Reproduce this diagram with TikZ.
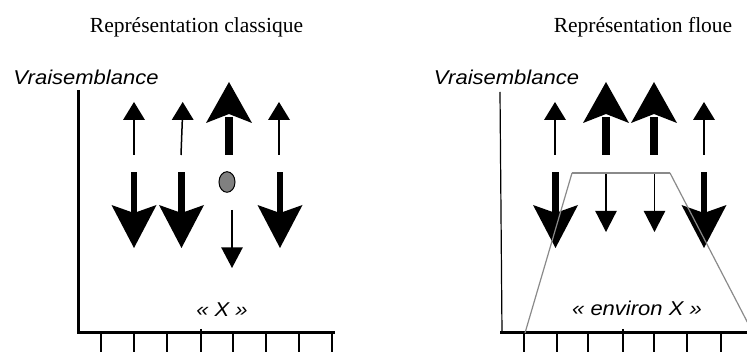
\documentclass[tikz,border=0pt]{standalone}
\usepackage{fontspec}
\setmainfont{Liberation Serif}
\newfontfamily\arialf{Liberation Sans}
\definecolor{dotgray}{HTML}{808080}
\definecolor{fuzzgray}{HTML}{8A8A8A}
\tikzset{
  axisline/.style={line width=3pt},
  thinaxis/.style={line width=1.2pt},
  tickline/.style={line width=2.6pt},
  thinshaft/.style={line width=1.5pt},
  fuzzyline/.style={draw=fuzzgray, line width=1.2pt},
  fuzzytop/.style={draw=fuzzgray, line width=2.3pt},
  titletext/.style={font=\fontsize{21.5}{24}\selectfont, anchor=base, inner sep=0pt},
  sanstext/.style={font=\arialf\itshape\fontsize{20}{24}\selectfont, anchor=base, inner sep=0pt},
}
\newcommand{\ThinUp}[1]{%
  \draw[thinshaft] (#1,155) -- (#1,118);
  \fill (#1-11,120) -- (#1,102) -- (#1+11,120) -- cycle;}
\newcommand{\ThickUp}[1]{%
  \fill (#1-3.7,155) rectangle (#1+3.7,117);
  \fill (#1,82) -- (#1+23,123) -- (#1,114) -- (#1-23,123) -- cycle;}
\newcommand{\ThickDown}[1]{%
  \fill (#1-3.3,172) rectangle (#1+3.3,215);
  \fill (#1,248) -- (#1+22.5,205) -- (#1,213) -- (#1-22.5,205) -- cycle;}
\newcommand{\ThinDown}[4]{%
  \draw[thinshaft] (#1,#2) -- (#1,#3+2);
  \fill (#1-10.8,#3) -- (#1,#4) -- (#1+10.8,#3) -- cycle;}
\begin{document}
\begin{tikzpicture}[x=1pt,y=-1pt]
\useasboundingbox (0,0) rectangle (747,352);

% ---------- titles and labels ----------
\node[titletext] (t1) at (196.5,33) {Représentation classique};
\node[titletext] (t2) at (643,33) {Représentation floue};
\node[sanstext] (v1) at (86,85) {\scalebox{1.1}[1]{Vraisemblance}};
\node[sanstext] (v2) at (506.5,85) {\scalebox{1.1}[1]{Vraisemblance}};
\node[sanstext] (x1) at (222,317) {\scalebox{1.1}[1]{« X »}};
\node[sanstext] (x2) at (637,316) {\scalebox{1.1}[1]{« environ X »}};

% ---------- left axes ----------
\coordinate (ly0) at (78,90);
\coordinate (lo) at (78,333);
\coordinate (lx1) at (335,333);
\draw[axisline] (ly0) -- (lo) -- (lx1);
\foreach \t in {101,134,167,233,266,299,332}
  \draw[tickline] (\t,333) -- (\t,353);
\draw[tickline] (201,329) -- (201,353);

% ---------- right axes ----------
\coordinate (ry0) at (500,92);
\coordinate (ro) at (502,333);
\draw[thinaxis] (ry0) -- (ro);
\draw[axisline] (500,333) -- (748,333);
\foreach \t in {524,557,588,654,687,721}
  \draw[tickline] (\t,333) -- (\t,353);
\draw[tickline] (623,329) -- (623,353);

% ---------- left arrows ----------
\ThinUp{134}
\draw[thinshaft] (181,155) -- (182.4,118);
\fill (182.7-11,120) -- (182.7,102) -- (182.7+11,120) -- cycle;
\ThickUp{229}
\ThinUp{279}
\ThickDown{134}
\ThickDown{181.5}
\ThickDown{280}
\filldraw[fill=dotgray, draw=black, line width=1pt] (227,182) ellipse [x radius=8, y radius=10.3];
\ThinDown{232}{210}{247.5}{268}

% ---------- right arrows ----------
\ThinUp{555}
\ThickUp{606}
\ThickUp{654}
\ThinUp{704}
\ThickDown{555.5}
\ThinDown{606}{173}{211}{232}
\ThinDown{654.5}{173}{211}{232}
\ThickDown{704}

% ---------- fuzzy trapezoid ----------
\draw[fuzzyline] (525,333) -- (572,173);
\draw[fuzzytop] (571.7,173) -- (670.3,173);
\draw[fuzzyline] (670,173) -- (753,333);
\end{tikzpicture}
\end{document}
